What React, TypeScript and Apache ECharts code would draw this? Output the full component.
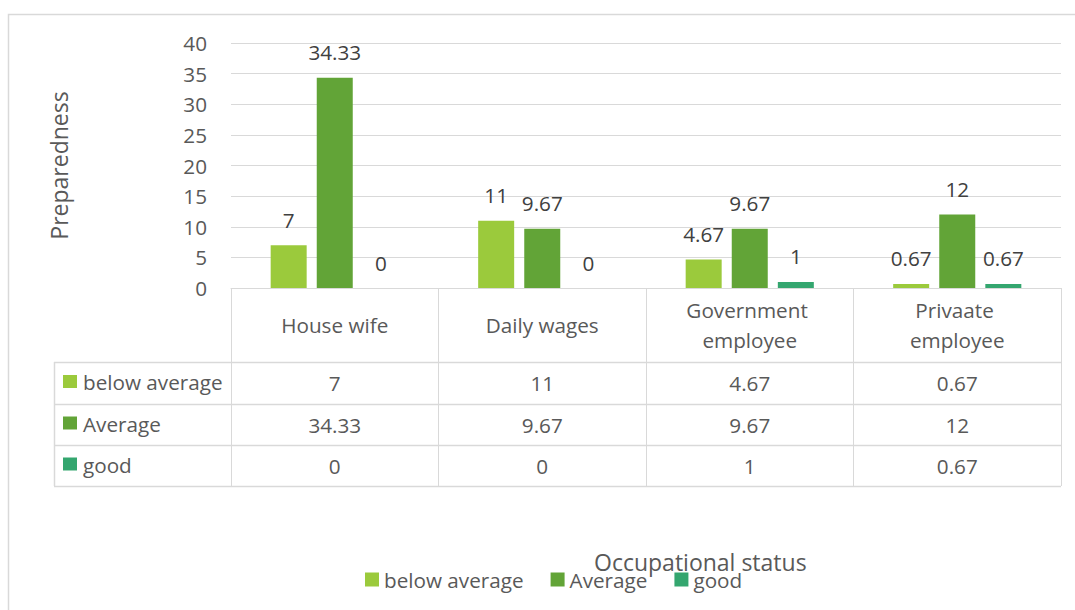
import React, { useEffect, useRef } from "react";
import * as echarts from "echarts";

const categories = ["House wife", "Daily wages", "Government employee", "Privaate employee"];
const seriesNames = ["below average", "Average", "good"];
const belowAverage = [7, 11, 4.67, 0.67];
const average = [34.33, 9.67, 9.67, 12];
const good = [0, 0, 1, 0.67];
const colors = ["#9bca3c", "#62a437", "#34a66f"];

const FONT = "'Open Sans', 'Noto Sans', sans-serif";
const TEXT = "#595959";
const LINE = "#d9d9d9";
const FS = 20.7;

export default function App() {
  const ref = useRef<HTMLDivElement>(null);
  useEffect(() => {
    if (!ref.current) return;
    const chart = echarts.init(ref.current, null, { renderer: "svg" });
    const seriesData = [belowAverage, average, good];
    const gridLeft = 231, gridRight = 14, gridTop = 43, axisY = 288;
    const rowEdges = [362, 404, 445, 486];
    const tableLeft = 54;
    const option: any = {
      animation: false,
      textStyle: { fontFamily: FONT },
      grid: { left: gridLeft, right: gridRight, top: gridTop, bottom: 610 - axisY, containLabel: false },
      xAxis: {
        type: "category",
        data: categories,
        axisLine: { show: true, lineStyle: { color: LINE, width: 1 } },
        axisTick: { show: true, length: rowEdges[3] - axisY, lineStyle: { color: LINE, width: 1 } },
        axisLabel: {
          fontSize: FS, color: TEXT, fontFamily: FONT, width: 165, overflow: "break",
          lineHeight: 30, margin: 37, verticalAlign: "middle", align: "center", interval: 0,
        },
      },
      yAxis: {
        type: "value", min: 0, max: 40, interval: 5,
        axisLabel: { fontSize: FS, color: TEXT, fontFamily: FONT, margin: 24 },
        axisLine: { show: false }, axisTick: { show: false },
        splitLine: { lineStyle: { color: LINE, width: 1 } },
        name: "Preparedness", nameLocation: "middle", nameGap: 161,
        nameTextStyle: { fontSize: 23, color: TEXT, fontFamily: FONT },
      },
      legend: {
        show: true, left: 365, top: 569, padding: 0, itemGap: 27, itemWidth: 14, itemHeight: 14,
        icon: "rect", data: seriesNames,
        textStyle: { fontSize: FS, color: TEXT, fontFamily: FONT },
      },
      series: seriesNames.map((name, i) => ({
        name, type: "bar", data: seriesData[i], barWidth: 36, barGap: "28%",
        itemStyle: { color: colors[i] },
        label: { show: true, position: "top", distance: 15, fontSize: FS, color: "#404040", fontFamily: FONT },
      })),
    };
    chart.setOption(option);

    const graphics: any[] = [];
    graphics.push({
      type: "rect", shape: { x: 8.5, y: 14.5, width: 1200, height: 800 },
      style: { fill: "none", stroke: LINE, lineWidth: 1.5 }, silent: true,
    });
    graphics.push({
      type: "text", x: 594, y: 562,
      style: { text: "Occupational status", fontSize: 23, fill: TEXT, fontFamily: FONT, verticalAlign: "middle", align: "left" },
    });
    const rightX = 1075 - gridRight;
    rowEdges.forEach((y) => {
      graphics.push({ type: "line", shape: { x1: tableLeft, y1: y + 0.5, x2: rightX, y2: y + 0.5 }, style: { stroke: LINE, lineWidth: 1.5 } });
    });
    graphics.push({ type: "line", shape: { x1: tableLeft + 0.5, y1: rowEdges[0], x2: tableLeft + 0.5, y2: rowEdges[3] }, style: { stroke: LINE, lineWidth: 1.5 } });
    seriesNames.forEach((name, r) => {
      const cy = (rowEdges[r] + rowEdges[r + 1]) / 2 - 1;
      graphics.push({ type: "rect", shape: { x: 63, y: cy - 7, width: 14, height: 13 }, style: { fill: colors[r] } });
      graphics.push({
        type: "text", x: 83, y: cy,
        style: { text: name, fontSize: FS, fill: TEXT, fontFamily: FONT, verticalAlign: "middle", align: "left" },
      });
      seriesData[r].forEach((v, c) => {
        const cx = chart.convertToPixel({ xAxisIndex: 0 }, c) as number;
        graphics.push({
          type: "text", x: cx, y: cy + 1,
          style: { text: String(v), fontSize: FS, fill: TEXT, fontFamily: FONT, verticalAlign: "middle", align: "center" },
        });
      });
    });
    chart.setOption({ graphic: graphics });
    return () => chart.dispose();
  }, []);
  return <div ref={ref} style={{ position: "fixed", left: 0, top: 0, width: 1075, height: 610, background: "#fff" }} />;
}
